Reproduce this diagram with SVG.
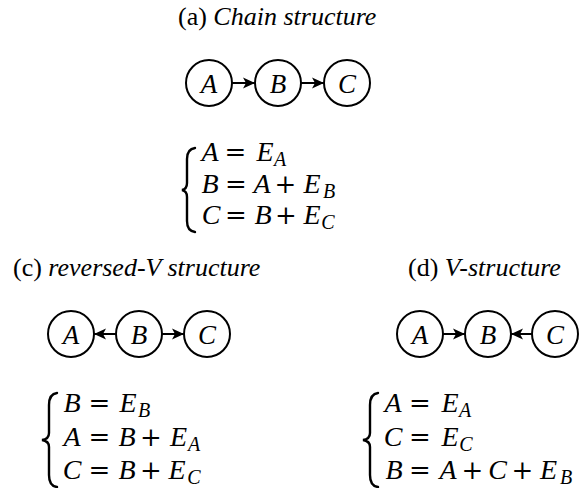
<svg xmlns="http://www.w3.org/2000/svg" width="584" height="488" viewBox="0 0 584 488">
<style>
.title{font-family:'Liberation Serif','Times New Roman',serif;font-size:26px;fill:#000}
.it{font-style:italic}
.node circle{fill:#fff;stroke:#000;stroke-width:2}
.node text{font-family:'Liberation Serif','Times New Roman',serif;font-style:italic;font-size:27px;text-anchor:middle;fill:#000}
.edges line{stroke:#000;stroke-width:2;marker-end:url(#ah)}
.m{font-family:'Liberation Serif','Times New Roman',serif;font-style:italic;font-size:28px;text-anchor:middle;fill:#000}
.s{font-family:'Liberation Serif','Times New Roman',serif;font-style:italic;font-size:20px;text-anchor:middle;fill:#000}
.op{font-family:'DejaVu Serif','Liberation Serif',serif;font-size:26px;text-anchor:middle;fill:#000}
.brace{fill:none;stroke:#000;stroke-width:2.4;stroke-linecap:round}
</style>
<defs>
<marker id="ah" viewBox="0 0 10 10" refX="10" refY="5" markerUnits="userSpaceOnUse" markerWidth="13" markerHeight="12" orient="auto">
<path d="M0,0.5 L10,5 L0,9.5 L2.5,5 z" fill="#000"/>
</marker>
</defs>

<!-- Titles -->
<text id="title-a" class="title" x="178" y="25">(a) <tspan class="it">Chain structure</tspan></text>
<text id="title-c" class="title" x="13" y="276">(c) <tspan class="it">reversed-V structure</tspan></text>
<text id="title-d" class="title" x="408" y="276">(d) <tspan class="it">V-structure</tspan></text>

<!-- Chain nodes -->
<g id="a-A" class="node"><circle cx="209" cy="83" r="23"/><text x="209" y="92.5">A</text></g>
<g id="a-B" class="node"><circle cx="278" cy="83" r="23"/><text x="278" y="92.5">B</text></g>
<g id="a-C" class="node"><circle cx="347" cy="83" r="23"/><text x="347" y="92.5">C</text></g>

<!-- reversed-V nodes -->
<g id="c-A" class="node"><circle cx="71" cy="334" r="23"/><text x="71" y="343.5">A</text></g>
<g id="c-B" class="node"><circle cx="139" cy="334" r="23"/><text x="139" y="343.5">B</text></g>
<g id="c-C" class="node"><circle cx="207" cy="334" r="23"/><text x="207" y="343.5">C</text></g>

<!-- V nodes -->
<g id="d-A" class="node"><circle cx="420" cy="334" r="23"/><text x="420" y="343.5">A</text></g>
<g id="d-B" class="node"><circle cx="488" cy="334" r="23"/><text x="488" y="343.5">B</text></g>
<g id="d-C" class="node"><circle cx="555" cy="334" r="23"/><text x="555" y="343.5">C</text></g>

<g id="connectors" class="edges">
<line x1="232" y1="83" x2="255" y2="83"/>
<line x1="301" y1="83" x2="324" y2="83"/>
<line x1="116" y1="334" x2="94" y2="334"/>
<line x1="162" y1="334" x2="184" y2="334"/>
<line x1="443" y1="334" x2="465" y2="334"/>
<line x1="532" y1="334" x2="511" y2="334"/>
</g>

<!-- Equations (a) -->
<g id="eq-a">
<path class="brace" d="M195,148 Q187,149 187,159 L187,183 Q187,189 182,190 Q187,191 187,197 L187,221 Q187,231 195,232"/>
<text class="m" x="210" y="161">A</text><text class="op" x="235.5" y="161">=</text><text class="m" x="265" y="161">E</text><text class="s" x="280" y="166">A</text>
<text class="m" x="210" y="193">B</text><text class="op" x="236" y="193">=</text><text class="m" x="262" y="193">A</text><text class="op" x="285.5" y="193">+</text><text class="m" x="312" y="193">E</text><text class="s" x="329" y="198">B</text>
<text class="m" x="211" y="224">C</text><text class="op" x="236" y="224">=</text><text class="m" x="263" y="224">B</text><text class="op" x="286" y="224">+</text><text class="m" x="312" y="224">E</text><text class="s" x="328" y="229">C</text>
</g>

<!-- Equations (c) -->
<g id="eq-c">
<path class="brace" d="M57,393 Q49,394 49,405 L49,433 Q49,439 42,440 Q49,441 49,447 L49,475 Q49,486 57,487"/>
<text class="m" x="72" y="412">B</text><text class="op" x="99.5" y="412">=</text><text class="m" x="128" y="412">E</text><text class="s" x="144" y="417">B</text>
<text class="m" x="72" y="446">A</text><text class="op" x="99.5" y="446">=</text><text class="m" x="127" y="446">B</text><text class="op" x="151" y="446">+</text><text class="m" x="178.5" y="446">E</text><text class="s" x="194" y="451">A</text>
<text class="m" x="72" y="479">C</text><text class="op" x="99.5" y="479">=</text><text class="m" x="127" y="479">B</text><text class="op" x="151" y="479">+</text><text class="m" x="177" y="479">E</text><text class="s" x="194" y="484">C</text>
</g>

<!-- Equations (d) -->
<g id="eq-d">
<path class="brace" d="M378,393 Q370,394 370,405 L370,433 Q370,439 363,440 Q370,441 370,447 L370,475 Q370,486 378,487"/>
<text class="m" x="393" y="412">A</text><text class="op" x="420" y="412">=</text><text class="m" x="450" y="412">E</text><text class="s" x="465" y="417">A</text>
<text class="m" x="393" y="446">C</text><text class="op" x="420" y="446">=</text><text class="m" x="450" y="446">E</text><text class="s" x="466" y="451">C</text>
<text class="m" x="394" y="479">B</text><text class="op" x="420" y="479">=</text><text class="m" x="448" y="479">A</text><text class="op" x="472.5" y="479">+</text><text class="m" x="497.5" y="479">C</text><text class="op" x="522.5" y="479">+</text><text class="m" x="548.5" y="479">E</text><text class="s" x="566" y="484">B</text>
</g>
</svg>
